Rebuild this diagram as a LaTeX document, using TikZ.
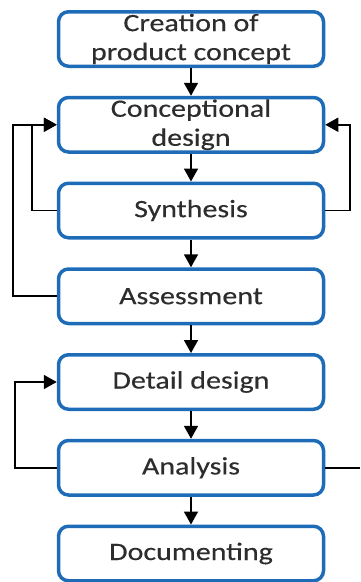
\documentclass[tikz,border=0pt]{standalone}
\usepackage{fontspec}
\setmainfont{Carlito}[FakeStretch=1.2,FakeBold=0.3]
\usetikzlibrary{positioning,arrows.meta}
\definecolor{boxblue}{RGB}{30,108,184}
\definecolor{textgray}{RGB}{45,45,45}
\begin{document}
\begin{tikzpicture}[x=1pt,y=1pt,
 stage/.style ={draw=boxblue,line width=3.5pt,rounded corners=10pt,fill=white,
   minimum width=265pt,minimum height=54.5pt,align=center,text=textgray,
   inner sep=1pt,font=\fontsize{25}{29}\selectfont},
 flow/.style ={-{Triangle[length=13pt,width=14pt]},line width=1.8pt,draw=black},
 exitline/.style ={-,line width=1.8pt,draw=black},
 node distance=27.75pt
 ]
\useasboundingbox (0,0) rectangle (360,-582);
%draw stages
\node[stage] (creation) at (191,-39) {Creation of\\product concept};
\node[stage, below=of creation] (concept) {Conceptional\\design};
\node[stage, below=of concept] (synthesis) {Synthesis};
\node[stage, below=of synthesis] (assessment) {Assessment};
\node[stage, below=of assessment] (detail) {Detail design};
\node[stage, below=of detail] (analysis) {Analysis};
\node[stage, below=of analysis] (documenting) {Documenting};
%draw main flow
\draw[flow] (creation) -- (concept);
\draw[flow] (concept) -- (synthesis);
\draw[flow] (synthesis) -- (assessment);
\draw[flow] (assessment) -- (detail);
\draw[flow] (detail) -- (analysis);
\draw[flow] (analysis) -- (documenting);
%draw feedback loops
\draw[flow] (synthesis.west) -- ++(-25,0) |- (concept.west);
\draw[flow] (assessment.west) -- ++(-44,0) |- (concept.west);
\draw[flow] (synthesis.east) -- ++(25,0) |- (concept.east);
\draw[flow] (analysis.west) -- ++(-42,0) |- (detail.west);
%draw line leaving to the right
\coordinate (exit) at ([xshift=35pt]analysis.east);
\draw[exitline] (analysis.east) -- (exit);
\end{tikzpicture}
\end{document}
